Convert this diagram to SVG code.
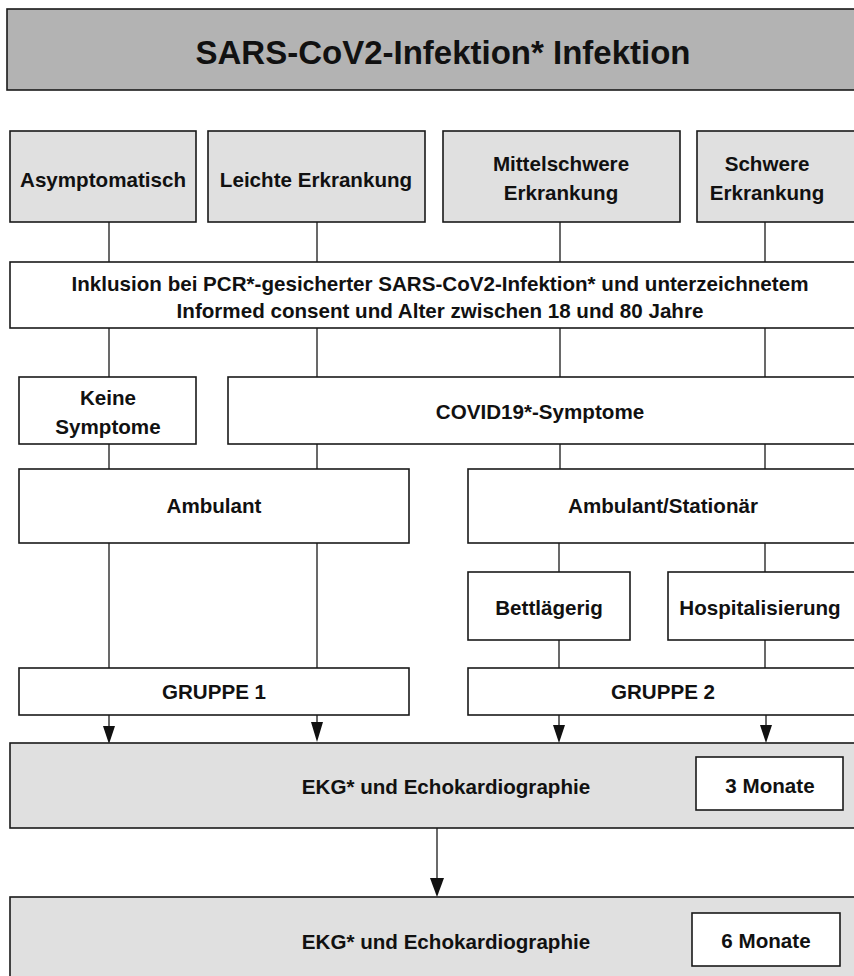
<svg xmlns="http://www.w3.org/2000/svg" width="854" height="976" viewBox="0 0 854 976">
<style>
.b{stroke:#1a1a1a;stroke-width:1.6}
.g{fill:#e0e0e0}
.d{fill:#b3b3b3}
.w{fill:#ffffff}
text{font-family:"Liberation Sans",Arial,sans-serif;font-weight:bold;font-size:20.6px;fill:#111;text-anchor:middle;dominant-baseline:central}
.t{font-size:33px}
.c{stroke:#1a1a1a;stroke-width:1.3;fill:none}
.h{fill:#111}
</style>
<rect width="854" height="976" fill="#ffffff"/>
<g id="connectors">
<path class="c" d="M109,222V262M317,222V262M560,222V262M765,222V262"/>
<path class="c" d="M109,328V377M317,328V377M560,328V377M765,328V377"/>
<path class="c" d="M109,444V469M317,444V469M560,444V469M765,444V469"/>
<path class="c" d="M109,543V668M317,543V668M559,543V572M765,543V572M559,640V668M765,640V668"/>
<path class="c" d="M109,715V728M317,715V723M559,715V726M766,715V726"/>
<path class="h" d="M103,726H115L109,744Z M311,722H323L317,742Z M553,725H565L559,743Z M760,725H772L766,743Z"/>
<path class="c" d="M437,828V880"/>
<path class="h" d="M430,878H444L437,897Z"/>
</g>
<g id="title"><rect class="b d" x="7" y="9" width="860" height="81"/><text class="t" x="443" y="52">SARS-CoV2-Infektion* Infektion</text></g>
<g id="asym"><rect class="b g" x="10" y="131" width="186" height="91"/><text x="103" y="179">Asymptomatisch</text></g>
<g id="leicht"><rect class="b g" x="208" y="131" width="217" height="91"/><text x="316" y="179">Leichte Erkrankung</text></g>
<g id="mittel"><rect class="b g" x="443" y="131" width="237" height="91"/><text x="561" y="163">Mittelschwere</text><text x="561" y="192">Erkrankung</text></g>
<g id="schwer"><rect class="b g" x="697" y="131" width="170" height="91"/><text x="767" y="163">Schwere</text><text x="767" y="192">Erkrankung</text></g>
<g id="inklusion"><rect class="b w" x="10" y="262" width="857" height="66"/><text x="440" y="283">Inklusion bei PCR*-gesicherter SARS-CoV2-Infektion* und unterzeichnetem</text><text x="440" y="310">Informed consent und Alter zwischen 18 und 80 Jahre</text></g>
<g id="keine"><rect class="b w" x="19" y="377" width="177" height="67"/><text x="108" y="397">Keine</text><text x="108" y="426">Symptome</text></g>
<g id="covid"><rect class="b w" x="228" y="377" width="639" height="67"/><text x="540" y="411">COVID19*-Symptome</text></g>
<g id="ambulant"><rect class="b w" x="19" y="469" width="390" height="74"/><text x="214" y="505">Ambulant</text></g>
<g id="ambstat"><rect class="b w" x="468" y="469" width="399" height="74"/><text x="663" y="505">Ambulant/Stationär</text></g>
<g id="bett"><rect class="b w" x="468" y="572" width="162" height="68"/><text x="549" y="607">Bettlägerig</text></g>
<g id="hosp"><rect class="b w" x="668" y="572" width="199" height="68"/><text x="760" y="607">Hospitalisierung</text></g>
<g id="gruppe1"><rect class="b w" x="19" y="668" width="390" height="47"/><text x="214" y="691">GRUPPE 1</text></g>
<g id="gruppe2"><rect class="b w" x="468" y="668" width="399" height="47"/><text x="663" y="691">GRUPPE 2</text></g>
<g id="ekg3"><rect class="b g" x="10" y="743" width="857" height="85"/><text x="446" y="786">EKG* und Echokardiographie</text></g>
<g id="m3"><rect class="b w" x="696" y="757" width="147" height="53"/><text x="770" y="785">3 Monate</text></g>
<g id="ekg6"><rect class="b g" x="10" y="897" width="857" height="90"/><text x="446" y="941">EKG* und Echokardiographie</text></g>
<g id="m6"><rect class="b w" x="692" y="913" width="148" height="53"/><text x="766" y="940">6 Monate</text></g>
</svg>
